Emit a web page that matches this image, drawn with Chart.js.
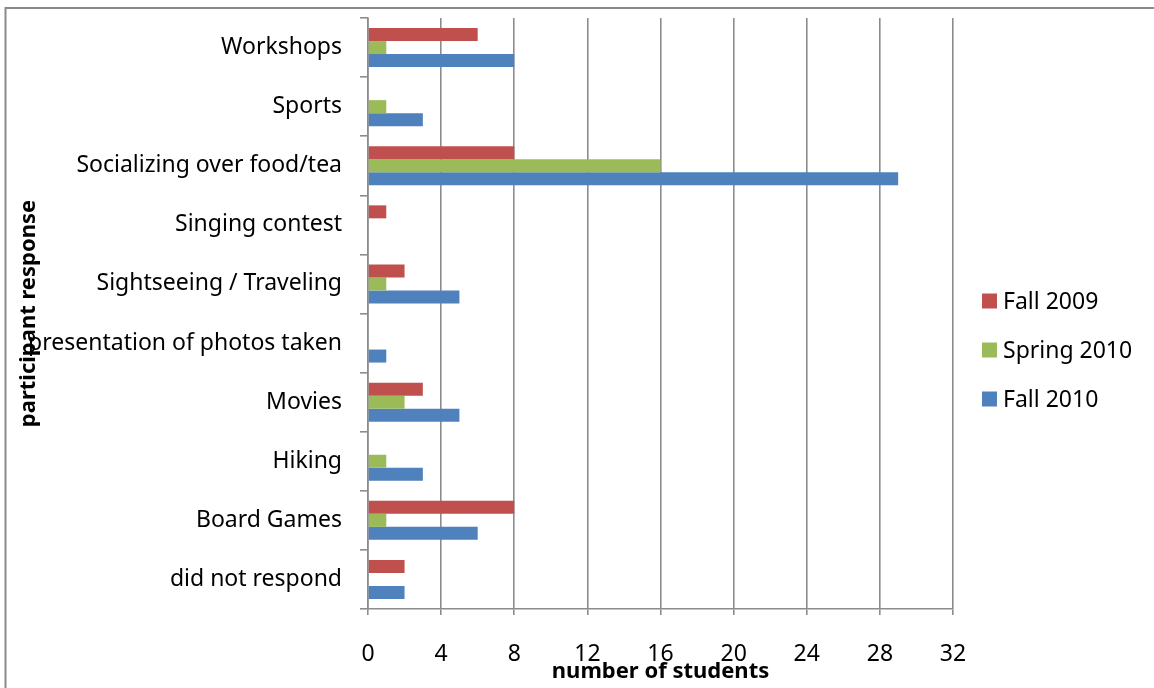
<!DOCTYPE html>
<html>
<head>
<meta charset="utf-8">
<script src="https://cdn.jsdelivr.net/npm/chart.js@4"></script>
<style>
  html, body { margin: 0; padding: 0; background: #fff; }
  #c { display: block; }
</style>
</head>
<body>
<canvas id="c" width="1154" height="688"></canvas>
<script>
const categories = [
  "Workshops",
  "Sports",
  "Socializing over food/tea",
  "Singing contest",
  "Sightseeing / Traveling",
  "presentation of photos taken",
  "Movies",
  "Hiking",
  "Board Games",
  "did not respond"
];
const fall2009   = [6, 0, 8, 1, 2, 0, 3, 0, 8, 2];
const spring2010 = [1, 1, 16, 0, 1, 0, 2, 1, 1, 0];
const fall2010   = [8, 3, 29, 0, 5, 1, 5, 3, 6, 2];
const seriesNames = ["Fall 2009", "Spring 2010", "Fall 2010"];
const xMin = 0, xMax = 32, xStep = 4;

const FONT = '"Noto Sans", "DejaVu Sans", sans-serif';
const GRID = '#8c8c8c';

const framePlugin = {
  id: 'frame',
  beforeDraw(chart) {
    const ctx = chart.ctx;
    ctx.save();
    ctx.fillStyle = '#fff';
    ctx.fillRect(0, 0, chart.width, chart.height);
    ctx.strokeStyle = '#8a8a8a';
    ctx.lineWidth = 2;
    ctx.beginPath();
    ctx.moveTo(5.5, chart.height);
    ctx.lineTo(5.5, 8);
    ctx.lineTo(chart.width, 8);
    ctx.stroke();
    ctx.restore();
  }
};

const legendPlugin = {
  id: 'sideLegend',
  afterDraw(chart) {
    const ctx = chart.ctx;
    const area = chart.chartArea;
    ctx.save();
    ctx.font = '23px ' + FONT;
    ctx.textBaseline = 'middle';
    ctx.textAlign = 'left';
    chart.data.datasets.forEach((ds, i) => {
      const y = 301 + i * 49;
      const x = area.right + 29;
      ctx.fillStyle = ds.backgroundColor;
      ctx.fillRect(x, y - 7.5, 15, 15);
      ctx.fillStyle = '#000';
      ctx.fillText(ds.label, x + 21, y + 1);
    });
    ctx.restore();
  }
};

new Chart(document.getElementById('c'), {
  type: 'bar',
  data: {
    labels: categories,
    datasets: [
      { label: seriesNames[0], data: fall2009,   backgroundColor: '#C0504D' },
      { label: seriesNames[1], data: spring2010, backgroundColor: '#9BBB59' },
      { label: seriesNames[2], data: fall2010,   backgroundColor: '#4F81BD' }
    ]
  },
  options: {
    indexAxis: 'y',
    responsive: false,
    animation: false,
    devicePixelRatio: 1,
    datasets: { bar: { categoryPercentage: 0.66, barPercentage: 1.0, borderWidth: 0 } },
    layout: { padding: { left: 0, top: 18, right: 201, bottom: 0 } },
    plugins: { legend: { display: false }, tooltip: { enabled: false } },
    scales: {
      x: {
        min: xMin, max: xMax,
        ticks: { stepSize: xStep, color: '#000', font: { family: FONT, size: 23 }, padding: 26 },
        grid: { color: GRID, lineWidth: 1.6, tickLength: 6, drawTicks: true },
        border: { color: GRID, width: 1.6 },
        title: { display: true, text: 'number of students', color: '#000',
                 font: { family: FONT, size: 22, weight: 'bold' }, padding: { top: 0, bottom: 3 } },
        afterFit(scale) { scale.height = 79; scale.paddingLeft = 0; scale.paddingRight = 0; }
      },
      y: {
        ticks: { color: '#000', font: { family: FONT, size: 23 }, padding: 18, autoSkip: false },
        grid: { offset: true, drawOnChartArea: false, color: GRID, lineWidth: 1.6, tickLength: 8 },
        border: { color: GRID, width: 1.6 },
        title: { display: true, text: 'participant response', color: '#000',
                 font: { family: FONT, size: 22, weight: 'bold' }, padding: { top: 16, bottom: 0 } },
        afterFit(scale) { scale.width = 368; scale.paddingTop = 0; scale.paddingBottom = 0; }
      }
    }
  },
  plugins: [framePlugin, legendPlugin]
});
</script>
</body>
</html>
